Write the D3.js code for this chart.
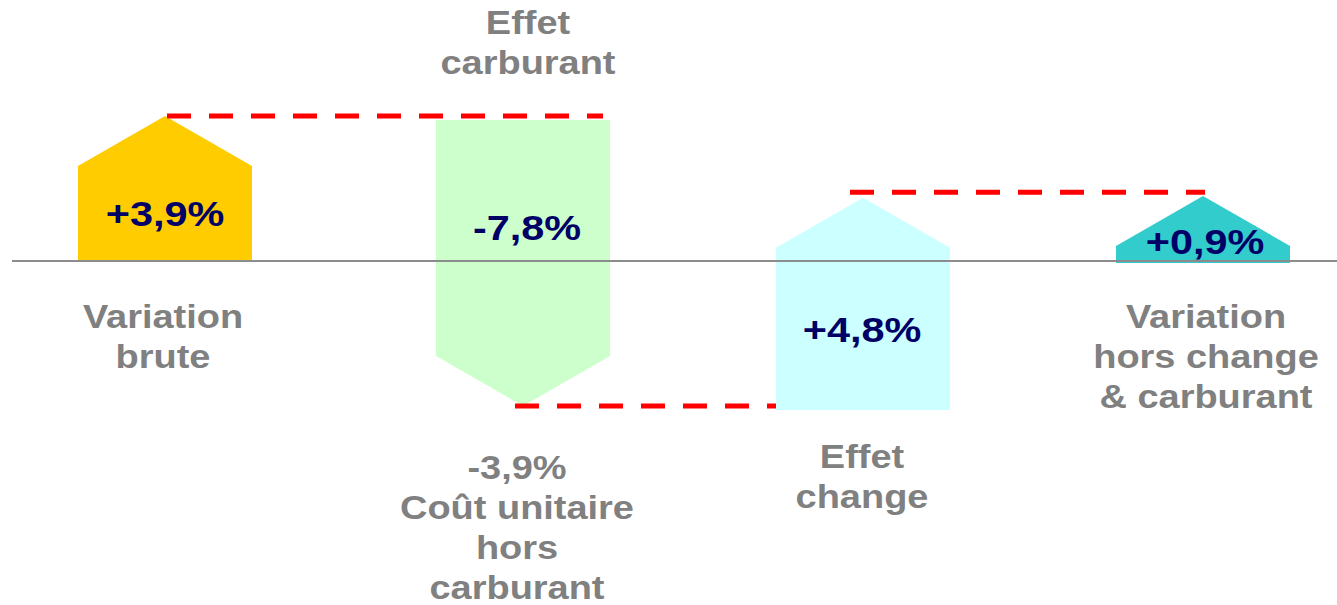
<!DOCTYPE html>
<html>
<head>
<meta charset="utf-8">
<script src="https://cdn.jsdelivr.net/npm/d3@7"></script>
<style>
	html, body { margin: 0; padding: 0; background: white; overflow: hidden; }
</style>
</head>
<body>
<div id="viz"></div>
<script>

// Chart data
var categories = ["Variation brute", "Effet carburant", "Effet change", "Variation hors change & carburant"];
var valueLabels = ["+3,9%", "-7,8%", "+4,8%", "+0,9%"];
var startLevels = [0, 3.9, -3.9, 0];      // where each arrow starts (%)
var endLevels = [3.9, -3.9, 1.7, 1.75];   // where each arrow tip ends (%)
var barColors = ["#ffcc00", "#ccffcc", "#ccffff", "#33cccc"];
var connectorLevels = [3.9, -3.9, 1.85];

var topLabel = ["Effet", "carburant"];
var bottomLabels = [
	["Variation", "brute"],
	["-3,9%", "Coût unitaire", "hors", "carburant"],
	["Effet", "change"],
	["Variation", "hors change", "& carburant"]
];

// SVG properties
var width = 1337,
	height = 605,
	barWidth = 174,
	headHeight = 50,
	stretch = 1.15,
	fontFamily = "'Liberation Sans', Arial, Helvetica, sans-serif";

// bar centres as laid out on the slide
var x = d3.scaleOrdinal(categories, [165, 523, 863, 1203]);
var y = d3.scaleLinear([-3.9, 3.9], [406, 116]);

var svg = d3.select("#viz")
	.append("svg")
	.attr("width", width)
	.attr("height", height)
	.style("background-color", "white");

// Arrow shaped bars
var arrowPath = (d, i) => {
	var cx = x(d),
		left = cx - barWidth / 2,
		right = cx + barWidth / 2,
		yStart = y(startLevels[i]),
		yTip = y(endLevels[i]),
		dir = yTip < yStart ? 1 : -1,
		yShoulder = yTip + dir * headHeight,
		p = d3.path();
	// small gaps as on the original slide
	if (dir < 0) yStart += 4;
	if (i == 2) yStart += 4;
	if (i == 3) yStart += 2;
	p.moveTo(left, yStart);
	p.lineTo(left, yShoulder);
	p.lineTo(cx, yTip);
	p.lineTo(right, yShoulder);
	p.lineTo(right, yStart);
	p.closePath();
	return p.toString();
};

svg.selectAll(".bar")
	.data(categories)
	.enter()
	.append("path")
	.attr("class", "bar")
	.attr("d", arrowPath)
	.style("fill", (d, i) => barColors[i])
	.style("stroke", "none");

// Zero line
svg.append("line")
	.attr("x1", 12)
	.attr("x2", width)
	.attr("y1", y(0))
	.attr("y2", y(0))
	.style("stroke", "#8c8c8c")
	.style("stroke-width", 2);

// Dashed connectors between tips
var connectorEnds = [
	[x(categories[0]) + 2, x(categories[1]) + barWidth / 2 - 7],
	[x(categories[1]) - 8, x(categories[2]) - barWidth / 2],
	[x(categories[2]) - 13, x(categories[3]) + 2]
];

svg.selectAll(".connector")
	.data(connectorLevels)
	.enter()
	.append("line")
	.attr("class", "connector")
	.attr("x1", (d, i) => connectorEnds[i][0])
	.attr("x2", (d, i) => connectorEnds[i][1])
	.attr("y1", d => y(d))
	.attr("y2", d => y(d))
	.style("stroke", "#ff0000")
	.style("stroke-width", 5)
	.style("stroke-dasharray", "24, 18");

// Value labels inside arrows
var valueOffsets = [-35, -21, 81, -7],
	valueShift = [0, 4, -1, 2];

svg.selectAll(".value-label")
	.data(categories)
	.enter()
	.append("text")
	.attr("class", "value-label")
	.attr("transform", (d, i) => `translate(${x(d) + valueShift[i]}, ${y(0) + valueOffsets[i]}) scale(${stretch}, 1)`)
	.attr("text-anchor", "middle")
	.style("font-family", fontFamily)
	.style("font-weight", "bold")
	.style("font-size", "36px")
	.style("fill", "#000066")
	.text((d, i) => valueLabels[i]);

// Category labels
var addLabel = (lines, cx, firstBaseline) => {
	var t = svg.append("text")
		.attr("transform", `translate(${cx}, ${firstBaseline}) scale(${stretch}, 1)`)
		.attr("text-anchor", "middle")
		.style("font-family", fontFamily)
		.style("font-weight", "bold")
		.style("font-size", "33px")
		.style("fill", "#808080");
	t.selectAll("tspan")
		.data(lines)
		.enter()
		.append("tspan")
		.attr("x", 0)
		.attr("y", (d, i) => i * 40)
		.text(d => d);
};

addLabel(topLabel, x(categories[1]) + 5, y(3.9) - 82);
addLabel(bottomLabels[0], x(categories[0]) - 2, y(0) + 67);
addLabel(bottomLabels[1], x(categories[1]) - 6, y(-3.9) + 73);
addLabel(bottomLabels[2], x(categories[2]) - 1, y(-3.9) + 62);
addLabel(bottomLabels[3], x(categories[3]) + 3, y(0) + 67);

</script>
</body>
</html>
